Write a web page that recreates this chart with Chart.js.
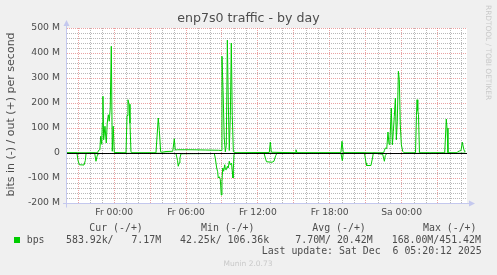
<!DOCTYPE html>
<html>
<head>
<meta charset="utf-8">
<script src="https://cdn.jsdelivr.net/npm/chart.js@4.4.1/dist/chart.umd.min.js"></script>
<style>
html,body{margin:0;padding:0;background:#f0f0f0;}
#wrap{width:497px;height:275px;position:relative;}
canvas{display:block;}
</style>
</head>
<body>
<div id="wrap"><canvas id="c" width="497" height="275"></canvas></div>
<script>
// ---- data (hours relative to Fr 00:00, values in M bits/s) ----
const outHours = [-3.94,-1.38,-1.33,-1.24,-1.19,-1.13,-1.04,-0.99,-0.94,-0.88,-0.77,-0.66,-0.58,-0.49,-0.41,-0.33,-0.24,-0.16,-0.08,0.01,
  0.99,1.07,1.15,1.24,1.32,1.40,1.49,3.49,3.57,3.68,3.77,3.88,3.99,4.33,4.89,5.02,5.10,5.30,6.50,7.60,8.70,8.94,
  9.00,9.09,9.19,9.28,9.36,9.45,9.53,9.61,9.70,9.78,9.86,9.95,10.17,12.95,13.04,13.12,15.10,15.18,15.27,18.93,19.02,19.13,
  22.50,22.56,22.64,22.76,22.86,22.95,23.03,23.14,23.23,23.31,23.39,23.48,23.56,23.64,23.73,23.81,23.89,23.98,24.09,24.20,
  25.16,25.24,25.29,25.35,25.41,25.49,27.60,27.73,27.79,27.87,28.60,28.68,28.82,28.96,29.07,29.19,29.27,29.33];
const outValues = [1,1,8,13,15,67,35,120,227,53,107,40,120,153,127,180,427,7,107,2,
  1,150,213,195,120,5,1,1,60,140,90,5,3,6,7,57,12,13,13,12,11,10,
  387,250,60,5,30,451.42,200,10,150,440,150,5,1,2,44,3,1,13,1,1,47,1,
  1,10,20,18,84,35,53,180,33,87,147,220,53,127,327,293,113,33,7,1,
  1,150,213,170,153,1,1,136,100,1,1,5,8,10,43,15,5,7.17];

const inHours = [-3.94,-3.11,-3.02,-2.91,-2.52,-2.41,-2.35,-1.63,-1.52,-1.44,-1.38,-1.20,0.00,1.50,4.30,5.16,5.29,5.35,5.43,5.49,5.58,
  8.36,8.44,8.56,8.64,8.69,8.78,8.86,8.94,9.00,9.06,9.14,9.23,9.28,9.36,9.45,9.52,9.61,9.69,9.80,9.86,9.92,10.00,10.11,
  12.51,12.65,12.72,13.18,13.34,13.49,13.60,18.93,19.05,19.13,20.90,21.03,21.08,21.44,21.57,21.64,22.42,22.56,22.64,22.76,
  24.20,26.30,26.37,26.45,28.60,29.33];
const inValues = [0,0,-30,-47,-48,-30,-2,0,-33,-15,-5,-2,-2,-1,-1,-2,-30,-53,-40,-20,-3,
  -2,-20,-60,-75,-100,-95,-105,-168,-115,-60,-73,-47,-65,-67,-53,-60,-33,-47,-40,-73,-100,-7,-1,
  0,-25,-35,-37,-33,-10,0,0,-31,0,0,-40,-50,-50,-20,0,-5,-33,-10,-2,
  -2,-1,-4,-1,-1,-0.58];

const xMin = -3.94, xMax = 29.46;
const yMin = -200, yMax = 500;
const xTickHours = [0, 6, 12, 18, 24];
const xTickLabels = ['Fr 00:00', 'Fr 06:00', 'Fr 12:00', 'Fr 18:00', 'Sa 00:00'];
const seriesName = 'bps';
const legendHeaders = ['Cur (-/+)', 'Min (-/+)', 'Avg (-/+)', 'Max (-/+)'];
const legendValues = ['583.92k/   7.17M', '42.25k/ 106.36k', '7.70M/ 20.42M', '168.00M/451.42M'];
const titleText = 'enp7s0 traffic - by day';
const yTitle = 'bits in (-) / out (+) per second';
const lastUpdate = 'Last update: Sat Dec  6 05:20:12 2025';
const sideText = 'RRDTOOL / TOBI OETIKER';
const footer = 'Munin 2.0.73';

// ---- styles ----
const GREEN = '#00cc00';
const MAJOR = 'rgba(220,100,100,0.6)';
const MINOR_DOT = '#b8b8b8';
const AXIS = '#c4c8ee';
const TXT = '#4d4d4d';
const MONO = '"DejaVu Sans Mono", monospace';
const SANS = '"DejaVu Sans", sans-serif';

const hourGrid = [];
for (let h = Math.ceil(xMin); h <= Math.floor(xMax); h++) hourGrid.push(h);
const valueGrid = [];
for (let v = yMin; v <= yMax; v += 20) valueGrid.push(v);

const isMajorHour = v => Math.abs(v % 3) < 1e-9;
const isMajorValue = v => Math.abs(v % 100) < 1e-9;

const decor = {
  id: 'decor',
  beforeDraw(chart) {
    const {ctx, chartArea: a} = chart;
    ctx.save();
    ctx.fillStyle = '#f0f0f0';
    ctx.fillRect(0, 0, chart.width, chart.height);
    ctx.fillStyle = '#ffffff';
    ctx.fillRect(a.left, a.top, a.right - a.left, a.bottom - a.top);
    ctx.restore();
  },
  beforeDatasetsDraw(chart) {
    // minor dotted grid at every hour / every 20 M, placed through the scales
    const {ctx, chartArea: a, scales: {x, y}} = chart;
    ctx.save();
    ctx.fillStyle = MINOR_DOT;
    hourGrid.forEach(h => {
      if (isMajorHour(h)) return;
      const px = Math.round(x.getPixelForValue(h));
      for (let py = Math.ceil(a.top); py < a.bottom; py += 2) ctx.fillRect(px, py, 1, 1);
    });
    valueGrid.forEach(v => {
      if (isMajorValue(v)) return;
      const py = Math.round(y.getPixelForValue(v));
      for (let px = Math.ceil(a.left); px < a.right; px += 2) ctx.fillRect(px, py, 1, 1);
    });
    ctx.restore();
  },
  afterDatasetsDraw(chart) {
    const {ctx, chartArea: a, scales: {y}} = chart;
    ctx.save();
    const y0 = Math.round(y.getPixelForValue(0)) + 0.5;
    ctx.strokeStyle = '#000';
    ctx.lineWidth = 1;
    ctx.beginPath(); ctx.moveTo(a.left, y0); ctx.lineTo(a.right, y0); ctx.stroke();
    const yb = Math.round(y.getPixelForValue(yMin)) + 0.5;
    const xl = a.left - 0.5;
    ctx.strokeStyle = AXIS;
    ctx.beginPath(); ctx.moveTo(a.left - 4, yb); ctx.lineTo(a.right + 3, yb); ctx.stroke();
    ctx.beginPath(); ctx.moveTo(xl, yb + 4); ctx.lineTo(xl, a.top - 3); ctx.stroke();
    ctx.fillStyle = AXIS;
    ctx.beginPath(); ctx.moveTo(xl - 3, a.top - 2); ctx.lineTo(xl + 3, a.top - 2); ctx.lineTo(xl, a.top - 8); ctx.closePath(); ctx.fill();
    ctx.beginPath(); ctx.moveTo(a.right + 2, yb - 3); ctx.lineTo(a.right + 2, yb + 3); ctx.lineTo(a.right + 8, yb); ctx.closePath(); ctx.fill();
    ctx.restore();
  },
  afterDraw(chart) {
    const {ctx, chartArea: a} = chart;
    ctx.save();
    ctx.textBaseline = 'middle';
    ctx.fillStyle = TXT;
    ctx.font = '12.6px ' + SANS;
    ctx.textAlign = 'center';
    ctx.fillText(titleText, 248.5, 19);
    ctx.save();
    ctx.translate(11, (a.top + a.bottom) / 2 - 1);
    ctx.rotate(-Math.PI / 2);
    ctx.font = '11px ' + SANS;
    ctx.fillText(yTitle, 0, 0);
    ctx.restore();
    ctx.save();
    ctx.translate(487.5, 5);
    ctx.rotate(Math.PI / 2);
    ctx.textAlign = 'left';
    ctx.fillStyle = '#c9c9c9';
    ctx.font = '7.4px ' + SANS;
    ctx.fillText(sideText, 0, 0);
    ctx.restore();
    ctx.textAlign = 'left';
    ctx.font = '9.9px ' + MONO;
    ctx.fillStyle = TXT;
    const hx = [89.3, 201, 312.3, 423];
    const vx = [66, 180, 295.3, 391.7];
    legendHeaders.forEach((t, i) => ctx.fillText(t, hx[i], 228));
    legendValues.forEach((t, i) => ctx.fillText(t, vx[i], 240));
    ctx.fillText(seriesName, 26.7, 240);
    ctx.fillText(lastUpdate, 261.7, 251.5);
    ctx.fillStyle = GREEN;
    ctx.fillRect(14, 237, 6, 6);
    ctx.fillStyle = '#c9c9c9';
    ctx.font = '7.5px ' + SANS;
    ctx.textAlign = 'center';
    ctx.fillText(footer, 248, 264.5);
    ctx.restore();
  }
};

const toPts = (xs, ys) => xs.map((h, i) => ({x: h, y: ys[i]}));

new Chart(document.getElementById('c'), {
  type: 'line',
  data: {
    datasets: [
      {label: 'in', data: toPts(inHours, inValues), borderColor: GREEN, borderWidth: 1, pointRadius: 0, fill: false, tension: 0},
      {label: 'out', data: toPts(outHours, outValues), borderColor: GREEN, borderWidth: 1, pointRadius: 0, fill: false, tension: 0}
    ]
  },
  options: {
    responsive: false,
    animation: false,
    devicePixelRatio: 1,
    layout: {padding: {left: 0, top: 28, right: 30, bottom: 0}},
    plugins: {legend: {display: false}, tooltip: {enabled: false}, title: {display: false}},
    scales: {
      x: {
        type: 'linear', min: xMin, max: xMax,
        afterBuildTicks: s => { s.ticks = hourGrid.map(v => ({value: v})); },
        afterFit: s => { s.height = 72; },
        ticks: {
          autoSkip: false, maxRotation: 0, minRotation: 0, padding: 4,
          color: TXT, font: {family: 'DejaVu Sans', size: 9.2},
          callback: v => { const i = xTickHours.indexOf(v); return i >= 0 ? xTickLabels[i] : ''; }
        },
        grid: {drawTicks: false, lineWidth: 1,
          color: c => (c.tick && isMajorHour(c.tick.value)) ? MAJOR : 'rgba(0,0,0,0)'},
        border: {display: false, dash: [1, 1]}
      },
      y: {
        type: 'linear', min: yMin, max: yMax,
        afterBuildTicks: s => { s.ticks = valueGrid.map(v => ({value: v})); },
        afterFit: s => { s.width = 67; },
        ticks: {
          autoSkip: false, padding: 7,
          color: TXT, font: {family: 'DejaVu Sans', size: 9.3},
          callback: v => isMajorValue(v) ? (v === 0 ? '0' : v + ' M') : ''
        },
        grid: {drawTicks: false, lineWidth: 1, color: c => {
          const v = c.tick ? c.tick.value : 1;
          if (v === 0 || v === yMin || !isMajorValue(v)) return 'rgba(0,0,0,0)';
          return MAJOR;
        }},
        border: {display: false, dash: [1, 1]}
      }
    }
  },
  plugins: [decor]
});
</script>
</body>
</html>
